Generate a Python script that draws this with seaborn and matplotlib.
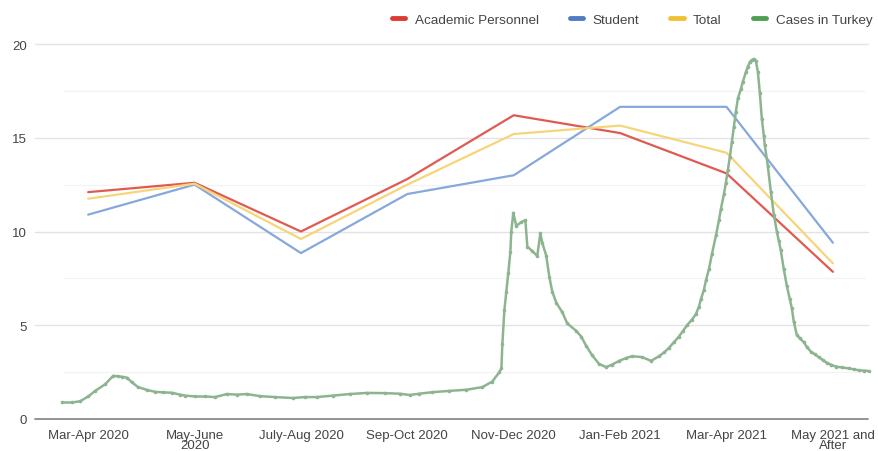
import seaborn as sns
import pandas as pd
import numpy as np
import matplotlib.pyplot as plt
from matplotlib.lines import Line2D

# categories (bimonthly periods)
categories = ["Mar-Apr 2020", "May-June\n2020", "July-Aug 2020", "Sep-Oct 2020",
              "Nov-Dec 2020", "Jan-Feb 2021", "Mar-Apr 2021", "May 2021 and\nAfter"]

# survey series, one value per period
academic = [12.1, 12.6, 10.0, 12.8, 16.2, 15.25, 13.1, 7.85]
student = [10.9, 12.5, 8.85, 12.0, 13.0, 16.65, 16.65, 9.4]
total = [11.75, 12.55, 9.6, 12.5, 15.2, 15.65, 14.2, 8.3]

# cases in Turkey: position on the period axis / value
cases_pos = [-0.244, -0.150, -0.075, 0.000, 0.066, 0.159, 0.235, 0.281, 0.319, 0.366,
             0.413, 0.469, 0.553, 0.629, 0.704, 0.788, 0.863, 0.910, 1.004, 1.098,
             1.191, 1.304, 1.398, 1.492, 1.614, 1.754, 1.923, 2.036, 2.148, 2.298,
             2.458, 2.617, 2.786, 2.927, 3.021, 3.114, 3.236, 3.396, 3.555, 3.705,
             3.799, 3.865, 3.884, 3.893, 3.912, 3.931, 3.949, 3.968, 3.977, 3.996,
             4.024, 4.071, 4.109, 4.128, 4.174, 4.221, 4.250, 4.268, 4.306, 4.334,
             4.362, 4.400, 4.456, 4.503, 4.587, 4.634, 4.681, 4.737, 4.803, 4.869,
             4.925, 4.991, 5.056, 5.113, 5.206, 5.291, 5.366, 5.413, 5.460, 5.507,
             5.553, 5.591, 5.629, 5.675, 5.713, 5.741, 5.760, 5.788, 5.807, 5.835,
             5.863, 5.901, 5.929, 5.947, 5.976, 5.994, 6.013, 6.032, 6.051, 6.069,
             6.088, 6.107, 6.135, 6.154, 6.182, 6.201, 6.220, 6.238, 6.257, 6.276,
             6.295, 6.313, 6.332, 6.351, 6.360, 6.388, 6.417, 6.445, 6.473, 6.492,
             6.510, 6.538, 6.567, 6.595, 6.614, 6.632, 6.660, 6.689, 6.726, 6.754,
             6.792, 6.829, 6.867, 6.904, 6.942, 6.979, 7.026, 7.083, 7.148, 7.195,
             7.242, 7.289, 7.336]
cases_val = [0.88, 0.88, 0.95, 1.2, 1.5, 1.85, 2.3, 2.28, 2.25, 2.2,
             1.95, 1.7, 1.55, 1.45, 1.42, 1.4, 1.3, 1.25, 1.2, 1.2,
             1.17, 1.33, 1.3, 1.33, 1.22, 1.17, 1.12, 1.17, 1.17, 1.25,
             1.33, 1.39, 1.38, 1.35, 1.28, 1.35, 1.43, 1.5, 1.56, 1.7,
             2.0, 2.5, 2.7, 4.0, 5.8, 6.8, 7.8, 8.9, 10.0, 11.0,
             10.3, 10.5, 10.6, 9.2, 8.95, 8.7, 9.9, 9.4, 8.7, 7.6,
             6.8, 6.2, 5.7, 5.1, 4.7, 4.4, 3.9, 3.4, 2.93, 2.77,
             2.9, 3.1, 3.25, 3.35, 3.3, 3.1, 3.35, 3.55, 3.8, 4.1,
             4.4, 4.7, 5.0, 5.3, 5.6, 6.0, 6.4, 6.9, 7.4, 8.0,
             8.8, 9.8, 10.6, 11.2, 12.0, 12.6, 13.3, 14.0, 14.8, 15.6,
             16.4, 17.1, 17.6, 18.0, 18.5, 18.8, 19.05, 19.15, 19.2, 19.1,
             18.5, 17.4, 16.0, 15.1, 14.6, 13.5, 12.1, 10.9, 10.0, 9.5,
             9.0, 8.0, 7.1, 6.4, 5.9, 5.2, 4.5, 4.3, 4.1, 3.85,
             3.6, 3.45, 3.3, 3.15, 3.0, 2.9, 2.8, 2.75, 2.7, 2.65,
             2.6, 2.58, 2.56]

sns.set_theme(style="white")
plt.rcParams['font.family'] = ['Liberation Sans', 'DejaVu Sans']

# colours (Google-sheet like)
c_red = "#e05a52"
c_blue = "#86a8dc"
c_yel = "#f6d57a"
c_green = "#8cb58f"

df = pd.DataFrame({"pos": range(len(categories)), "Academic Personnel": academic,
                   "Student": student, "Total": total})
cases_df = pd.DataFrame({"pos": cases_pos, "cases": cases_val})

fig = plt.figure(figsize=(8.79, 4.52), dpi=100)
ax = fig.add_axes([0.0398, 0.0708, 0.9477, 0.8296])

# grid
for v in [5, 10, 15, 20]:
    ax.axhline(v, color="#e3e3e3", lw=1.0, zorder=0)
ax.hlines([2.5, 7.5, 12.5, 17.5], -0.24, 7.3, color="#f3f3f3", lw=0.9, zorder=0)
ax.axhline(0, color="#8a8a8a", lw=1.3, zorder=1)

sns.lineplot(data=df, x="pos", y="Academic Personnel", color=c_red, lw=1.6, ax=ax)
sns.lineplot(data=df, x="pos", y="Student", color=c_blue, lw=1.6, ax=ax)
sns.lineplot(data=df, x="pos", y="Total", color=c_yel, lw=1.6, ax=ax)
sns.lineplot(data=cases_df, x="pos", y="cases", color=c_green, lw=1.8,
             marker="o", markersize=2.6, markeredgewidth=0, ax=ax)

ax.set_xlim(-0.5, 7.33)
ax.set_ylim(0, 20)
ax.set_yticks([0, 5, 10, 15, 20])
ax.set_xticks(range(len(categories)))
ax.set_xticklabels(categories, fontsize=9.5, color="#444444", linespacing=0.85)
ax.tick_params(axis="y", labelsize=9.5, labelcolor="#444444", length=0, pad=6)
ax.tick_params(axis="x", length=0, pad=7)
ax.set_xlabel("")
ax.set_ylabel("")
for s in ax.spines.values():
    s.set_visible(False)
for line in ax.lines:
    line.set_clip_on(False)

# legend on top right
handles = [Line2D([], [], color="#dd3b33", lw=3.5),
           Line2D([], [], color="#4f7cc4", lw=3.5),
           Line2D([], [], color="#f1c033", lw=3.5),
           Line2D([], [], color="#4f9f55", lw=3.5)]
labels = ["Academic Personnel", "Student", "Total", "Cases in Turkey"]
fig.legend(handles, labels, loc="upper right", bbox_to_anchor=(1.006, 0.995), ncol=4,
           frameon=False, fontsize=9.7, handlelength=1.0, handletextpad=0.7,
           columnspacing=2.3, labelcolor="#444444")

fig.savefig("out.png", dpi=100)
